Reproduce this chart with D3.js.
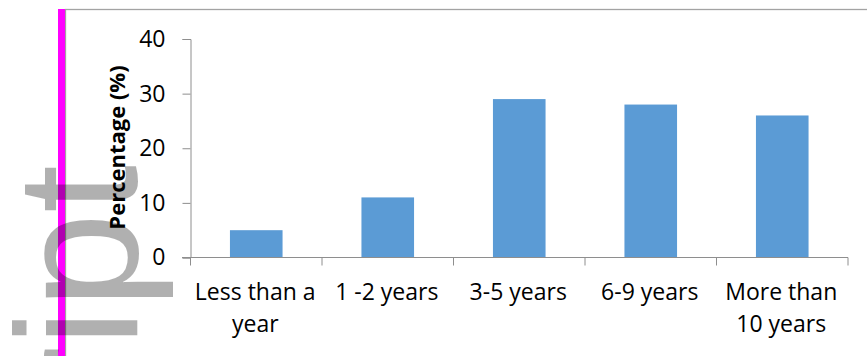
<!DOCTYPE html>
<html>
<head>
    <meta charset="utf-8" />
    <script src="https://cdn.jsdelivr.net/npm/d3@7"></script>
    <style>
        body { margin: 0; background: #fff; }
        svg { display: block; }
        text { font-family: "Open Sans", sans-serif; }
    </style>
</head>
<body>

<svg id="svg"></svg>

<script>

// chart data
let categories = [["Less than a", "year"], ["1 -2 years"], ["3-5 years"], ["6-9 years"], ["More than", "10 years"]];
let values = [5, 11, 29, 28, 26];
let yTicks = [0, 10, 20, 30, 40];
let yTitle = "Percentage (%)";

let realW = 867;
let realH = 356;

let svg = d3.select("#svg")
    .attr("width", realW)
    .attr("height", realH);

// chart frame and the pink marker line on the left
svg.append("rect")
    .attr("x", 65.5)
    .attr("y", 9.5)
    .attr("width", realW)
    .attr("height", realH)
    .attr("fill", "none")
    .attr("stroke", "#a3a3a3")
    .attr("stroke-width", 1.3);

svg.append("rect")
    .attr("x", 58)
    .attr("y", 9)
    .attr("width", 7)
    .attr("height", realH - 9)
    .attr("fill", "#ff00ff");

let x = d3.scaleBand()
    .domain(categories.map(d => d.join(" ")))
    .range([190.5, 848])
    .padding(0);

let y = d3.scaleLinear()
    .domain([0, 40])
    .range([257.5, 39]);

let barW = x.bandwidth() * 0.4;

// bars
svg.selectAll(".bar")
    .data(values)
    .enter()
    .append("rect")
    .attr("class", "bar")
    .attr("x", (d, i) => x(categories[i].join(" ")) + (x.bandwidth() - barW) / 2)
    .attr("y", d => y(d))
    .attr("width", barW)
    .attr("height", d => y(0) - y(d))
    .attr("fill", "#5b9bd5");

// y axis
let yAxis = svg.append("g")
    .attr("transform", "translate(190.5,0)")
    .call(d3.axisLeft(y).tickValues(yTicks).tickSize(8).tickPadding(17));

yAxis.select(".domain").attr("stroke", "#8e8e8e");
yAxis.selectAll(".tick line").attr("stroke", "#8e8e8e");
yAxis.selectAll(".tick text")
    .attr("fill", "#000")
    .style("font-size", "23px")
    .style("font-family", "'Open Sans', sans-serif");

// x axis: line plus ticks at the category boundaries
let bounds = x.domain().map(d => x(d)).concat([x.range()[1]]);

svg.append("line")
    .attr("x1", 182)
    .attr("x2", x.range()[1])
    .attr("y1", y(0))
    .attr("y2", y(0))
    .attr("stroke", "#8e8e8e");

svg.selectAll(".xtick")
    .data(bounds)
    .enter()
    .append("line")
    .attr("class", "xtick")
    .attr("x1", d => d)
    .attr("x2", d => d)
    .attr("y1", y(0))
    .attr("y2", y(0) + 8)
    .attr("stroke", "#8e8e8e");

let xLabels = svg.selectAll(".xlabel")
    .data(categories)
    .enter()
    .append("text")
    .attr("class", "xlabel")
    .attr("text-anchor", "middle")
    .style("font-size", "23px")
    .attr("fill", "#000");

xLabels.selectAll("tspan")
    .data(d => d)
    .enter()
    .append("tspan")
    .attr("x", function() {
        let c = d3.select(this.parentNode).datum();
        return x(c.join(" ")) + x.bandwidth() / 2 - 1;
    })
    .attr("y", (d, i) => 300 + i * 32)
    .text(d => d);

// y title
svg.append("text")
    .attr("transform", "translate(125,147.5) rotate(-90)")
    .attr("text-anchor", "middle")
    .style("font-size", "22px")
    .style("font-weight", "bold")
    .attr("fill", "#000")
    .text(yTitle);

// large grey letters that sit over the left edge
svg.append("text")
    .attr("transform", "translate(137,165) rotate(-90)")
    .attr("text-anchor", "end")
    .style("font-family", "'Liberation Sans', Arial, sans-serif")
    .style("font-size", "172px")
    .attr("fill", "#000")
    .attr("fill-opacity", 0.31)
    .text("script");

</script>

</body>
</html>
